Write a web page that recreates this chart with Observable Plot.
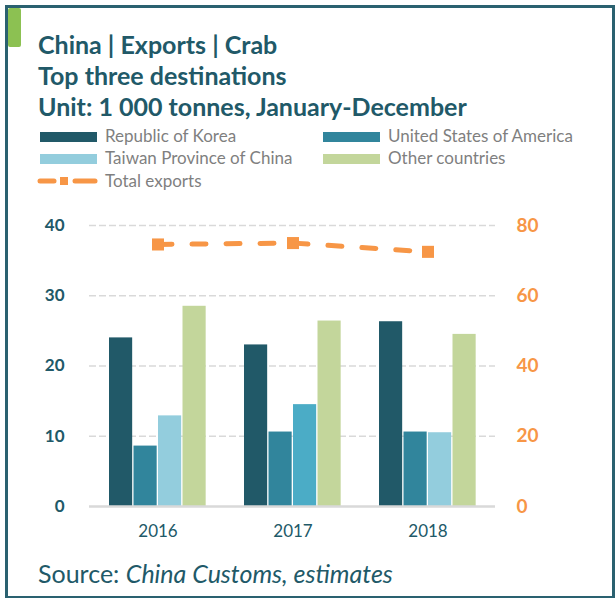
<!DOCTYPE html>
<html>
<head>
<meta charset="utf-8">
<script src="https://cdn.jsdelivr.net/npm/d3@7"></script>
<script src="https://cdn.jsdelivr.net/npm/@observablehq/plot@0.6"></script>
<style>
  html, body { margin: 0; padding: 0; background: #fff; }
  #wrap { position: relative; width: 615px; height: 598px; overflow: hidden; font-family: Lato, "Open Sans", sans-serif; }
  #frame { position: absolute; left: 5px; top: 5px; width: 604px; height: 588px; border: 3px solid #2A6170; border-bottom-width: 2px; }
  #tab { position: absolute; left: 8px; top: 8px; width: 13px; height: 39px; background: #8CC152; border-radius: 2px; }
  .title { position: absolute; left: 38px; font-weight: bold; font-size: 25px; line-height: 31px; color: #215968; white-space: nowrap; }
  .leg { position: absolute; font-size: 17px; line-height: 20px; color: #7F7F7F; white-space: nowrap; }
  .sw { position: absolute; width: 57px; height: 10px; }
  #source { position: absolute; left: 38px; top: 558px; font-size: 25px; line-height: 30px; color: #215968; white-space: nowrap; }
  #chart { position: absolute; left: 0; top: 200px; }
</style>
</head>
<body>
<div id="wrap">
  <div id="frame"></div>
  <div id="tab"></div>
  <div class="title" style="top:29px">China | Exports | Crab</div>
  <div class="title" style="top:60px">Top three destinations</div>
  <div class="title" style="top:91px">Unit: 1 000 tonnes, January-December</div>
  <div id="legend"></div>
  <div id="chart"></div>
  <div id="source">Source: <i>China Customs, estimates</i></div>
</div>
<script>
const years = ["2016", "2017", "2018"];
const korea = [24.0, 23.0, 26.3];
const usa = [8.6, 10.6, 10.6];
const taiwan = [12.9, 14.5, 10.5];
const others = [28.5, 26.4, 24.5];
const total = [74.6, 75.0, 72.5];
const seriesNames = ["Republic of Korea", "United States of America", "Taiwan Province of China", "Other countries", "Total exports"];

const colors = {
  korea: "#215968",
  usa: "#31859C",
  taiwan: "#93CDDD",
  taiwanHi: "#4BACC6",
  others: "#C3D69B",
  total: "#F79646"
};

const rows = years.map((y, i) => ({year: y, korea: korea[i], usa: usa[i], taiwan: taiwan[i], others: others[i], total: total[i]}));

// Legend
const legend = document.getElementById("legend");
const legItems = [
  {name: seriesNames[0], color: colors.korea, x: 40, y: 128},
  {name: seriesNames[1], color: colors.usa, x: 323, y: 128},
  {name: seriesNames[2], color: colors.taiwan, x: 40, y: 150},
  {name: seriesNames[3], color: colors.others, x: 323, y: 150}
];
legItems.forEach(it => {
  const sw = document.createElement("div");
  sw.className = "sw";
  sw.style.left = it.x + "px";
  sw.style.top = (it.y + 4) + "px";
  sw.style.background = it.color;
  legend.appendChild(sw);
  const t = document.createElement("div");
  t.className = "leg";
  t.style.left = (it.x + 65) + "px";
  t.style.top = (it.y - 2) + "px";
  t.textContent = it.name;
  legend.appendChild(t);
});
{
  const ns = "http://www.w3.org/2000/svg";
  const s = document.createElementNS(ns, "svg");
  s.setAttribute("width", 62); s.setAttribute("height", 14);
  s.style.position = "absolute"; s.style.left = "37px"; s.style.top = "174px";
  s.innerHTML = `<line x1="3" y1="7" x2="17" y2="7" stroke="${colors.total}" stroke-width="5" stroke-linecap="round"/>
    <rect x="23" y="3" width="8" height="8" fill="${colors.total}"/>
    <line x1="38" y1="7" x2="58" y2="7" stroke="${colors.total}" stroke-width="5" stroke-linecap="round"/>`;
  legend.appendChild(s);
  const t = document.createElement("div");
  t.className = "leg";
  t.style.left = "105px"; t.style.top = "171px";
  t.textContent = seriesNames[4];
  legend.appendChild(t);
}

// Chart
const W = 615, H = 340, mL = 89, mR = 120;
const bw = (W - mL - mR) / years.length;
const barW = 23.5, step = 24.5, firstOff = 19;
const keys = ["korea", "usa", "taiwan", "others"];
const barMarks = keys.map((k, i) => {
  const left = firstOff + i * step;
  return Plot.barY(rows, {
    x: "year",
    y: k,
    fill: k === "taiwan" ? (d => d.year === "2017" ? colors.taiwanHi : colors.taiwan) : colors[k],
    insetLeft: left,
    insetRight: bw - left - barW
  });
});

const teal = "#215968";
const plot = Plot.plot({
  width: W,
  height: H,
  marginLeft: mL,
  marginRight: mR,
  marginTop: 25,
  marginBottom: 34,
  style: {fontFamily: "Lato, 'Open Sans', sans-serif", background: "transparent"},
  x: {type: "band", domain: years, padding: 0, label: null},
  y: {domain: [0, 40], label: null},
  marks: [
    Plot.gridY({ticks: [10, 20, 30, 40], stroke: "#D9D9D9", strokeOpacity: 1, strokeWidth: 1.5, strokeDasharray: "7,3"}),
    ...barMarks,
    Plot.ruleY([0], {stroke: "#D9D9D9", strokeWidth: 2.5}),
    Plot.line(rows, {x: "year", y: d => d.total / 2, stroke: colors.total, strokeWidth: 5, strokeDasharray: "14,20", strokeLinecap: "round"}),
    Plot.dot(rows, {x: "year", y: d => d.total / 2, symbol: "square", r: 6.8, fill: colors.total, stroke: "none"}),
    Plot.axisY({anchor: "left", ticks: [0, 10, 20, 30, 40], tickSize: 0, tickPadding: 25, fontSize: 17, fontWeight: "bold", color: teal, label: null}),
    Plot.axisY({anchor: "right", ticks: [0, 10, 20, 30, 40], tickFormat: d => d * 2, tickSize: 0, tickPadding: 21, fontSize: 19, fontWeight: "bold", color: colors.total, label: null}),
    Plot.axisX({tickSize: 0, tickPadding: 18, fontSize: 17, color: teal, label: null})
  ]
});
document.getElementById("chart").appendChild(plot);
</script>
</body>
</html>
